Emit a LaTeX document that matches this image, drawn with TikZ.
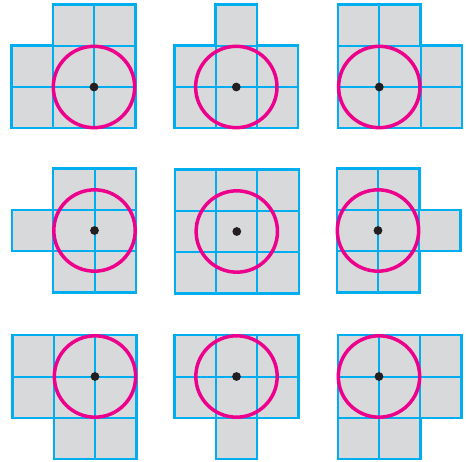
\documentclass[tikz,border=0pt]{standalone}
\usepackage{tikz}
\definecolor{gridblue}{HTML}{00AEEF}
\definecolor{cellgray}{HTML}{D8D9DB}
\definecolor{ringmag}{HTML}{EC008C}
\definecolor{dotblack}{HTML}{231F20}
\tikzset{
  shapefill/.style={fill=cellgray, draw=none},
  cellline/.style={draw=gridblue, line width=2pt},
  outline/.style={draw=gridblue, line width=2.4pt, line join=miter},
  ring/.style={draw=ringmag, line width=3.5pt},
  centerdot/.style={fill=dotblack, draw=none},
  panel/.style={x=41.3pt, y=41.3pt}
}
\newcommand{\pcell}[2]{\draw[cellline] (#1,#2) rectangle ++(1,1);}
\newcommand{\pring}{\draw[ring] (0,0) circle[radius=0.985]; \fill[centerdot] (0,0) circle[radius=4.4pt];}
\begin{document}
\begin{tikzpicture}[x=1pt, y=-1pt]
\useasboundingbox (0,0) rectangle (466,462);

% Panel 1
\begin{scope}[shift={(94pt,-87pt)}, panel]
  \path[shapefill] (-2,-1) -- (1,-1) -- (1,2) -- (-1,2) -- (-1,1) -- (-2,1) -- cycle;
  \foreach \a in {-2,-1,0} {\foreach \b in {-1,0} {\pcell{\a}{\b}}}
  \pcell{-1}{1} \pcell{0}{1}
  \path[outline] (-2,-1) -- (1,-1) -- (1,2) -- (-1,2) -- (-1,1) -- (-2,1) -- cycle;
  \pring
\end{scope}

% Panel 2
\begin{scope}[shift={(236.3pt,-87pt)}, panel]
  \path[shapefill] (-1.5,-1) -- (1.5,-1) -- (1.5,1) -- (0.5,1) -- (0.5,2) -- (-0.5,2) -- (-0.5,1) -- (-1.5,1) -- cycle;
  \foreach \a in {-1.5,-0.5,0.5} {\foreach \b in {-1,0} {\pcell{\a}{\b}}}
  \pcell{-0.5}{1}
  \path[outline] (-1.5,-1) -- (1.5,-1) -- (1.5,1) -- (0.5,1) -- (0.5,2) -- (-0.5,2) -- (-0.5,1) -- (-1.5,1) -- cycle;
  \pring
\end{scope}

% Panel 3
\begin{scope}[shift={(379.3pt,-87pt)}, panel]
  \path[shapefill] (-1,-1) -- (2,-1) -- (2,1) -- (1,1) -- (1,2) -- (-1,2) -- cycle;
  \foreach \a in {-1,0,1} {\foreach \b in {-1,0} {\pcell{\a}{\b}}}
  \pcell{-1}{1} \pcell{0}{1}
  \path[outline] (-1,-1) -- (2,-1) -- (2,1) -- (1,1) -- (1,2) -- (-1,2) -- cycle;
  \pring
\end{scope}

% Panel 4
\begin{scope}[shift={(94.5pt,-230.5pt)}, panel]
  \path[shapefill] (-1,-1.5) -- (1,-1.5) -- (1,1.5) -- (-1,1.5) -- (-1,0.5) -- (-2,0.5) -- (-2,-0.5) -- (-1,-0.5) -- cycle;
  \foreach \a in {-1,0} {\foreach \b in {-1.5,-0.5,0.5} {\pcell{\a}{\b}}}
  \pcell{-2}{-0.5}
  \path[outline] (-1,-1.5) -- (1,-1.5) -- (1,1.5) -- (-1,1.5) -- (-1,0.5) -- (-2,0.5) -- (-2,-0.5) -- (-1,-0.5) -- cycle;
  \pring
\end{scope}

% Panel 5
\begin{scope}[shift={(236.8pt,-231.5pt)}, panel]
  \path[shapefill] (-1.5,-1.5) rectangle (1.5,1.5);
  \foreach \a in {-1.5,-0.5,0.5} {\foreach \b in {-1.5,-0.5,0.5} {\pcell{\a}{\b}}}
  \path[outline] (-1.5,-1.5) rectangle (1.5,1.5);
  \pring
\end{scope}

% Panel 6
\begin{scope}[shift={(378pt,-230.5pt)}, panel]
  \path[shapefill] (-1,-1.5) -- (1,-1.5) -- (1,-0.5) -- (2,-0.5) -- (2,0.5) -- (1,0.5) -- (1,1.5) -- (-1,1.5) -- cycle;
  \foreach \a in {-1,0} {\foreach \b in {-1.5,-0.5,0.5} {\pcell{\a}{\b}}}
  \pcell{1}{-0.5}
  \path[outline] (-1,-1.5) -- (1,-1.5) -- (1,-0.5) -- (2,-0.5) -- (2,0.5) -- (1,0.5) -- (1,1.5) -- (-1,1.5) -- cycle;
  \pring
\end{scope}

% Panel 7
\begin{scope}[shift={(95pt,-376.5pt)}, panel]
  \path[shapefill] (-2,1) -- (1,1) -- (1,-2) -- (-1,-2) -- (-1,-1) -- (-2,-1) -- cycle;
  \foreach \a in {-2,-1,0} {\foreach \b in {-1,0} {\pcell{\a}{\b}}}
  \pcell{-1}{-2} \pcell{0}{-2}
  \path[outline] (-2,1) -- (1,1) -- (1,-2) -- (-1,-2) -- (-1,-1) -- (-2,-1) -- cycle;
  \pring
\end{scope}

% Panel 8
\begin{scope}[shift={(236.5pt,-376.5pt)}, panel]
  \path[shapefill] (-1.5,1) -- (1.5,1) -- (1.5,-1) -- (0.5,-1) -- (0.5,-2) -- (-0.5,-2) -- (-0.5,-1) -- (-1.5,-1) -- cycle;
  \foreach \a in {-1.5,-0.5,0.5} {\foreach \b in {-1,0} {\pcell{\a}{\b}}}
  \pcell{-0.5}{-2}
  \path[outline] (-1.5,1) -- (1.5,1) -- (1.5,-1) -- (0.5,-1) -- (0.5,-2) -- (-0.5,-2) -- (-0.5,-1) -- (-1.5,-1) -- cycle;
  \pring
\end{scope}

% Panel 9
\begin{scope}[shift={(379pt,-376.5pt)}, panel]
  \path[shapefill] (-1,1) -- (2,1) -- (2,-1) -- (1,-1) -- (1,-2) -- (-1,-2) -- cycle;
  \foreach \a in {-1,0,1} {\foreach \b in {-1,0} {\pcell{\a}{\b}}}
  \pcell{-1}{-2} \pcell{0}{-2}
  \path[outline] (-1,1) -- (2,1) -- (2,-1) -- (1,-1) -- (1,-2) -- (-1,-2) -- cycle;
  \pring
\end{scope}
\end{tikzpicture}
\end{document}
